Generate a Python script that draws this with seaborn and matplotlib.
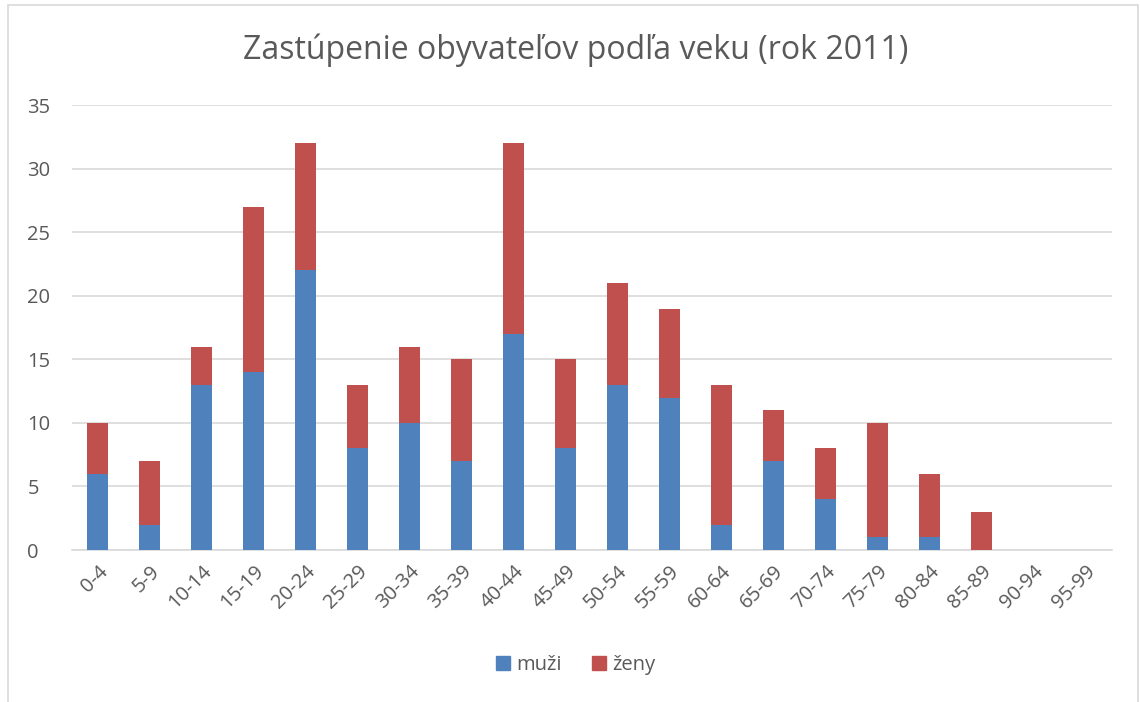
import matplotlib
matplotlib.use("Agg")
import matplotlib.pyplot as plt
import matplotlib.patches as mpatches
import pandas as pd
import seaborn as sns

age_groups = ["0-4", "5-9", "10-14", "15-19", "20-24", "25-29", "30-34", "35-39",
              "40-44", "45-49", "50-54", "55-59", "60-64", "65-69", "70-74", "75-79",
              "80-84", "85-89", "90-94", "95-99"]
muzi = [6, 2, 13, 14, 22, 8, 10, 7, 17, 8, 13, 12, 2, 7, 4, 1, 1, 0, 0, 0]
zeny = [4, 5, 3, 13, 10, 5, 6, 8, 15, 7, 8, 7, 11, 4, 4, 9, 5, 3, 0, 0]

blue = "#4F81BD"
red = "#C0504D"
text_col = "#595959"

df = pd.DataFrame({"vek": age_groups, "muzi": muzi, "zeny": zeny})
df["spolu"] = df["muzi"] + df["zeny"]

sns.set_style("white")
plt.rcParams["font.family"] = ["Open Sans", "DejaVu Sans"]

fig = plt.figure(figsize=(11.4, 7.02), dpi=100)
ax = fig.add_axes([0.063, 0.2165, 0.912, 0.6335])

# stacked: total in red, then muži in blue over it
sns.barplot(data=df, x="vek", y="spolu", color=red, width=0.4, saturation=1,
            linewidth=0, ax=ax, zorder=3)
sns.barplot(data=df, x="vek", y="muzi", color=blue, width=0.4, saturation=1,
            linewidth=0, ax=ax, zorder=3)

ax.set_ylim(0, 35)
ax.set_xlim(-0.5, len(age_groups) - 0.5)
ax.set_yticks(range(0, 36, 5))
ax.yaxis.grid(True, color="#D9D9D9", linewidth=1.2, zorder=0)
ax.set_axisbelow(True)
for s in ["top", "right", "left"]:
    ax.spines[s].set_visible(False)
ax.spines["bottom"].set_color("#D9D9D9")
ax.spines["bottom"].set_linewidth(1.2)
ax.set_xlabel("")
ax.set_ylabel("")
ax.tick_params(axis="both", length=0, labelsize=14.5, colors=text_col, pad=8)
plt.setp(ax.get_xticklabels(), rotation=45, ha="right", rotation_mode="anchor")
ax.tick_params(axis="y", pad=32)
for lbl in ax.get_yticklabels():
    lbl.set_horizontalalignment("left")

fig.text(0.505, 0.928, "Zastúpenie obyvateľov podľa veku (rok 2011)",
         ha="center", va="center", fontsize=23, color=text_col)

handles = [mpatches.Patch(color=blue, label="muži"),
           mpatches.Patch(color=red, label="ženy")]
fig.legend(handles=handles, loc="center", bbox_to_anchor=(0.505, 0.053), ncol=2,
           frameon=False, fontsize=14.5, labelcolor=text_col, handlelength=0.7,
           handleheight=0.7, handletextpad=0.3, columnspacing=1.5)

fig.patches.append(mpatches.Rectangle((8 / 1140, -0.01), 1130 / 1140, 1 - 5 / 702 + 0.01,
                                      transform=fig.transFigure, fill=False,
                                      edgecolor="#D9D9D9", linewidth=1.2))

fig.savefig("out.png", dpi=100)
